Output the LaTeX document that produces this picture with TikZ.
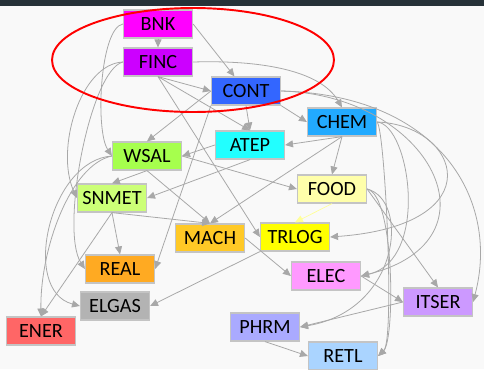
\documentclass[tikz,border=0pt]{standalone}
\usepackage{fontspec}
\setmainfont{Carlito}
\usepackage{tikz}
\usetikzlibrary{arrows.meta}
\definecolor{topbar}{HTML}{263238}
\definecolor{paper}{HTML}{F9F9F9}
\definecolor{edgegray}{HTML}{A8A8A8}
\definecolor{boxline}{HTML}{C4C4C4}
\definecolor{paleyellow}{HTML}{FFFF99}
\definecolor{cbnk}{HTML}{FF00FF}
\definecolor{cfinc}{HTML}{CC00FF}
\definecolor{ccont}{HTML}{3366FF}
\definecolor{cchem}{HTML}{22AAFF}
\definecolor{catep}{HTML}{22FFFF}
\definecolor{cwsal}{HTML}{A6FF4D}
\definecolor{csnmet}{HTML}{CCFF77}
\definecolor{cfood}{HTML}{FFFFAA}
\definecolor{cmach}{HTML}{FFC926}
\definecolor{ctrlog}{HTML}{FFFF00}
\definecolor{creal}{HTML}{FFAA22}
\definecolor{celec}{HTML}{FF99FF}
\definecolor{celgas}{HTML}{B3B3B3}
\definecolor{citser}{HTML}{CC99FF}
\definecolor{cener}{HTML}{FF6666}
\definecolor{cphrm}{HTML}{AAAAFF}
\definecolor{cretl}{HTML}{AAD4FF}

\begin{document}
\begin{tikzpicture}[x=0.02cm,y=-0.02cm,
  sector/.style={draw=boxline, line width=0.7pt, minimum width=1.38cm, minimum height=0.56cm,
    inner sep=0pt, font=\fontsize{11.5}{13}\selectfont},
  link/.style={draw=edgegray, line width=0.45pt, -{Triangle[length=4.5pt,width=4pt]}},
  yellowlink/.style={draw=paleyellow, line width=0.4pt, -{Triangle[length=4.5pt,width=4pt]}}]
%%% background and top bar
\fill[paper] (0,0) rectangle (484,369);
\fill[topbar] (0,0) rectangle (484,6);
\useasboundingbox (0,0) rectangle (484,369);
%%% the sectors
\node[sector, fill=cbnk]   (bnk)   at (158,24)  {BNK};
\node[sector, fill=cfinc]  (finc)  at (158,62)  {FINC};
\node[sector, fill=ccont]  (cont)  at (246,91)  {CONT};
\node[sector, fill=cchem]  (chem)  at (342,122) {CHEM};
\node[sector, fill=catep]  (atep)  at (250,145) {ATEP};
\node[sector, fill=cwsal]  (wsal)  at (147,156) {WSAL};
\node[sector, fill=csnmet] (snmet) at (112,198) {SNMET};
\node[sector, fill=cfood]  (food)  at (332,189) {FOOD};
\node[sector, fill=cmach]  (mach)  at (210,238) {MACH};
\node[sector, fill=ctrlog] (trlog) at (295,237) {TRLOG};
\node[sector, fill=creal]  (real)  at (120,269) {REAL};
\node[sector, fill=celec]  (elec)  at (326,276) {ELEC};
\node[sector, fill=celgas] (elgas) at (115,306) {ELGAS};
\node[sector, fill=citser] (itser) at (438,302) {ITSER};
\node[sector, fill=cener]  (ener)  at (41,331)  {ENER};
\node[sector, fill=cphrm]  (phrm)  at (265,327) {PHRM};
\node[sector, fill=cretl]  (retl)  at (343,356) {RETL};
%%% straight links
\draw[link] (bnk) -- (finc);
\draw[link] (bnk.east) -- (cont);
\draw[link] (finc.south) -- (cont.west);
\draw[link] (finc.south) -- (atep.north);
\draw[link] (finc.south) -- (trlog.west);
\draw[link] (cont.south) -- (atep.north);
\draw[link] (cont.south east) -- (chem.west);
\draw[link] (cont.west) -- (wsal.north);
\draw[link] (cont.south west) -- (real.east);
\draw[link] (chem.south) -- (atep.east);
\draw[link] (chem.south) -- (food.north);
\draw[link] (chem.south) -- (mach.north);
\draw[link] (atep.west) -- (wsal.east);
\draw[link] (atep.south) -- (snmet.east);
\draw[link] (wsal.south) -- (snmet.north);
\draw[link] (wsal.south) -- (mach.north);
\draw[link] (wsal.east) -- (food.west);
\draw[link] (snmet.south) -- (mach.north);
\draw[link] (snmet.south) -- (real.north);
\draw[link] (snmet.south) -- (ener.north);
\draw[yellowlink] (food.south) -- (trlog.north);
\draw[link] (food.east) -- (itser.north);
\draw[link] (mach.east) -- (elec.west);
\draw[link] (trlog.south west) -- (elgas.east);
\draw[link] (elec.east) -- (itser.west);
\draw[link] (itser.west) -- (phrm.east);
\draw[link] (phrm.south) -- (retl.west);
%%% curved links, left side
\draw[link] (bnk.west) .. controls (100,28) and (95,130) .. (wsal.west);
\draw[link] (finc.west) .. controls (80,64) and (55,150) .. (snmet.west);
\draw[link] (finc.west) .. controls (90,70) and (60,230) .. (real.west);
\draw[link] (wsal.west) .. controls (50,160) and (20,290) .. (elgas.west);
\draw[link] (wsal.west) .. controls (70,165) and (40,250) .. (ener.north);
%%% curved links, right side
\draw[link] (finc.east) .. controls (260,60) and (320,70) .. (chem.north);
\draw[link] (cont.east) .. controls (440,95) and (500,200) .. (itser.east);
\draw[link] (cont.east) .. controls (430,95) and (505,240) .. (elec.east);
\draw[link] (chem.east) .. controls (460,125) and (495,225) .. (trlog.east);
\draw[link] (chem.east) .. controls (410,125) and (430,260) .. (elec.east);
\draw[link] (chem.east) .. controls (385,130) and (395,340) .. (retl.east);
\draw[link] (food.east) .. controls (395,195) and (395,340) .. (retl.east);
\draw[link] (food.east) .. controls (410,200) and (400,310) .. (phrm.east);
%%% the circled pair
\draw[red, line width=1.1pt] (193,60) ellipse [x radius=2.82cm, y radius=1.04cm];
\end{tikzpicture}
\end{document}
